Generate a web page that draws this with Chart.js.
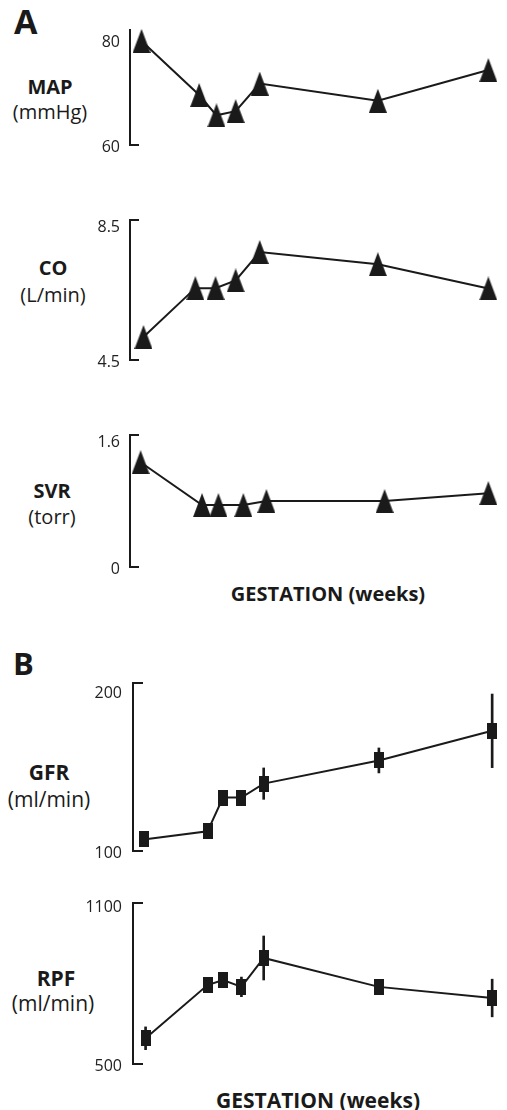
<!DOCTYPE html>
<html>
<head>
<meta charset="utf-8">
<script src="https://cdn.jsdelivr.net/npm/chart.js@4.4.1/dist/chart.umd.min.js"></script>
<style>
  body { margin: 0; width: 507px; height: 1110px; background: #fff; position: relative; overflow: hidden;
         font-family: 'Open Sans', sans-serif; color: #1a1a1a; }
  canvas { position: absolute; left: 0; }
  .txt { position: absolute; transform: translate(-50%, -50%); line-height: 1; white-space: nowrap; }
  .bold { font-weight: 700; }
  .letter { position: absolute; font-weight: 700; line-height: 1; }
</style>
</head>
<body>
<div class="letter" style="left:14px;top:4px;font-size:34px">A</div>
<div class="letter" style="left:13px;top:648px;font-size:31px">B</div>

<div class="txt bold" style="left:50px;top:87px;font-size:20px">MAP</div>
<div class="txt" style="left:50px;top:112px;font-size:20px">(mmHg)</div>
<div class="txt bold" style="left:53px;top:268px;font-size:20px">CO</div>
<div class="txt" style="left:53px;top:295px;font-size:20px">(L/min)</div>
<div class="txt bold" style="left:52px;top:491px;font-size:20px">SVR</div>
<div class="txt" style="left:52px;top:517px;font-size:20px">(torr)</div>
<div class="txt bold" style="left:328px;top:594px;font-size:20px">GESTATION (weeks)</div>

<div class="txt bold" style="left:49px;top:772px;font-size:21px">GFR</div>
<div class="txt" style="left:49px;top:799px;font-size:21px">(ml/min)</div>
<div class="txt bold" style="left:56px;top:978px;font-size:21px">RPF</div>
<div class="txt" style="left:53px;top:1003px;font-size:21px">(ml/min)</div>
<div class="txt bold" style="left:318px;top:1100px;font-size:21px">GESTATION (weeks)</div>

<script>
// ---- panel A: haemodynamics ----
const mapWeeks = [0.1, 6.1, 7.9, 9.9, 12.4, 24.7, 36.2];
const mapValues = [80, 69.6, 65.7, 66.5, 71.8, 68.5, 74.4];
const mapTicks = [60, 80];

const coWeeks = [0.3, 5.7, 7.8, 9.9, 12.4, 24.7, 36.2];
const coValues = [5.18, 6.63, 6.63, 6.86, 7.70, 7.34, 6.62];
const coTicks = [4.5, 8.5];

const svrWeeks = [0, 6.4, 8.1, 10.7, 13.1, 25.4, 36.2];
const svrValues = [1.32, 0.78, 0.78, 0.78, 0.83, 0.83, 0.93];
const svrTicks = [0, 1.6];

// ---- panel B: renal function (mean and error) ----
const gfrWeeks = [0, 6.6, 8.2, 10.1, 12.4, 24.3, 36];
const gfrValues = [107.2, 112.3, 133.4, 133.4, 142.1, 156.6, 175.1];
const gfrErrors = [3, 3, 3, 3, 9.8, 7.8, 23];
const gfrTicks = [100, 200];

const rpfWeeks = [0.2, 6.6, 8.2, 10.1, 12.4, 24.3, 36];
const rpfValues = [597, 798, 817, 791, 900, 791, 749];
const rpfErrors = [43, 20, 20, 37, 83, 20, 71];
const rpfTicks = [500, 1100];

const INK = '#1a1a1a';

function makeMarker(w, h, shape) {
  const c = document.createElement('canvas');
  c.width = w; c.height = h;
  const g = c.getContext('2d');
  g.fillStyle = INK;
  if (shape === 'tri') {
    g.beginPath();
    g.moveTo(w / 2, 0);
    g.lineTo(w, h);
    g.lineTo(0, h);
    g.closePath();
    g.fill();
  } else {
    g.fillRect(0, 0, w, h);
  }
  return c;
}
const triangle = makeMarker(18, 24, 'tri');
const square = makeMarker(10, 16, 'rect');

// little horizontal ends on the y axis, like a bracket
const bracketStubs = {
  id: 'bracketStubs',
  afterDraw(chart, args, opts) {
    const ctx = chart.ctx;
    const {left, top, bottom} = chart.chartArea;
    ctx.save();
    ctx.strokeStyle = INK;
    ctx.lineWidth = 2;
    ctx.beginPath();
    if (opts.top) { ctx.moveTo(left - 1, top); ctx.lineTo(left + opts.len, top); }
    ctx.moveTo(left - 1, bottom);
    ctx.lineTo(left + opts.len, bottom);
    ctx.stroke();
    ctx.restore();
  }
};

const PAD = 24;

function makePanel(p) {
  const cv = document.createElement('canvas');
  cv.width = 507;
  cv.height = p.bottom - p.top + PAD * 2;
  cv.style.top = (p.top - PAD) + 'px';
  document.body.appendChild(cv);

  const datasets = [{
    type: 'line',
    data: p.weeks.map((w, i) => ({x: w, y: p.values[i]})),
    borderColor: INK,
    borderWidth: 2,
    tension: 0,
    pointStyle: p.marker,
    pointRadius: 10,
    pointBorderWidth: 0,
    clip: false
  }];
  if (p.errors) {
    datasets.push({
      type: 'bar',
      data: p.weeks.map((w, i) => ({x: w, y: [p.values[i] - p.errors[i], p.values[i] + p.errors[i]]})),
      backgroundColor: INK,
      borderWidth: 0,
      barThickness: 2,
      clip: false
    });
  }

  return new Chart(cv, {
    type: 'line',
    data: {datasets},
    options: {
      responsive: false,
      animation: false,
      events: [],
      layout: {padding: {top: PAD, bottom: PAD, left: 0, right: p.right}},
      plugins: {
        legend: {display: false},
        tooltip: {enabled: false},
        bracketStubs: {top: p.topStub, len: p.stub}
      },
      scales: {
        x: {type: 'linear', display: false, min: p.xMin, max: p.xMax, offset: false},
        y: {
          min: p.yMin,
          max: p.yMax,
          afterFit: s => { s.width = p.axisX; },
          afterBuildTicks: s => { s.ticks = p.ticks.map(v => ({value: v})); },
          grid: {display: false, drawTicks: false},
          border: {display: true, color: INK, width: 2},
          ticks: {
            font: {family: 'Open Sans', size: p.tickSize},
            color: '#222',
            padding: p.tickPad,
            labelOffset: 2,
            callback: v => String(v)
          }
        }
      }
    },
    plugins: [bracketStubs]
  });
}

const panelA = {axisX: 130, right: 7, xMin: -1.1, xMax: 37.1, marker: triangle, tickSize: 16, tickPad: 10, stub: 9};
const panelB = {axisX: 133, right: 1, xMin: -1.1, xMax: 36.5, marker: square, tickSize: 16, tickPad: 11, stub: 10};

makePanel({...panelA, top: 30, bottom: 145, yMin: 60, yMax: 82.1, ticks: mapTicks,
  weeks: mapWeeks, values: mapValues, topStub: false});
makePanel({...panelA, top: 220, bottom: 360, yMin: 4.5, yMax: 8.65, ticks: coTicks,
  weeks: coWeeks, values: coValues, topStub: true});
makePanel({...panelA, top: 435, bottom: 567, yMin: 0, yMax: 1.663, ticks: svrTicks,
  weeks: svrWeeks, values: svrValues, topStub: true});
makePanel({...panelB, top: 683, bottom: 851, yMin: 100, yMax: 205, ticks: gfrTicks,
  weeks: gfrWeeks, values: gfrValues, errors: gfrErrors, topStub: true});
makePanel({...panelB, top: 903, bottom: 1064, yMin: 500, yMax: 1107.5, ticks: rpfTicks,
  weeks: rpfWeeks, values: rpfValues, errors: rpfErrors, topStub: true});
</script>
</body>
</html>
